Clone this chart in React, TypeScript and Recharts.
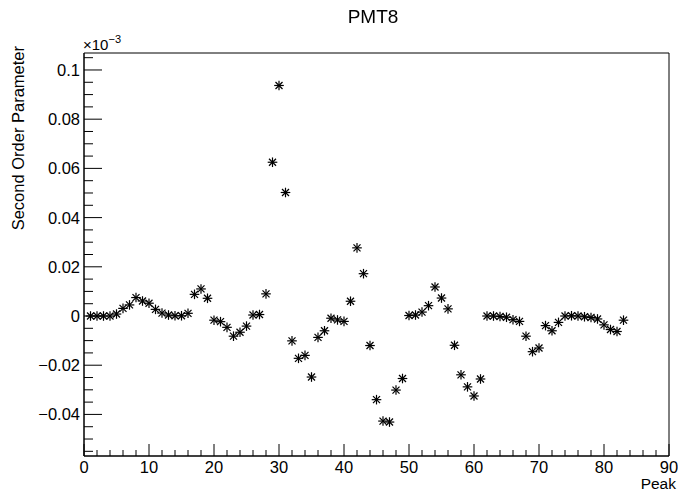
import { ScatterChart, Scatter, XAxis, YAxis, ReferenceArea } from "recharts";

// peak index along the x axis
const peaks = [
  1, 2, 3, 4, 5, 6, 7, 8, 9, 10, 11, 12, 13, 14, 15, 16, 17, 18, 19, 20,
  21, 22, 23, 24, 25, 26, 27, 28, 29, 30, 31, 32, 33, 34, 35, 36, 37, 38, 39, 40,
  41, 42, 43, 44, 45, 46, 47, 48, 49, 50, 51, 52, 53, 54, 55, 56, 57, 58, 59, 60,
  61, 62, 63, 64, 65, 66, 67, 68, 69, 70, 71, 72, 73, 74, 75, 76, 77, 78, 79, 80,
  81, 82, 83,
];

// second order parameter, in units of 1e-3 (as the axis shows)
const secondOrder = [
  0, 0, 0, 0, 0.0008, 0.0031, 0.0045, 0.0075, 0.0061, 0.0052,
  0.0027, 0.0012, 0.0004, 0.0001, 0.0001, 0.0011, 0.0088, 0.011, 0.0072, -0.0017,
  -0.0023, -0.0046, -0.0082, -0.0066, -0.0041, 0.0004, 0.0006, 0.009, 0.0625, 0.0937,
  0.0502, -0.0101, -0.0172, -0.016, -0.0248, -0.0087, -0.006, -0.0009, -0.0016, -0.0022,
  0.006, 0.0277, 0.0172, -0.012, -0.034, -0.0427, -0.0431, -0.0301, -0.0254, 0.0002,
  0.0004, 0.0016, 0.0042, 0.0118, 0.0073, 0.0029, -0.0119, -0.0239, -0.0288, -0.0325,
  -0.0256, 0, 0, -0.0002, -0.0005, -0.0015, -0.0022, -0.0082, -0.0145, -0.013,
  -0.0039, -0.006, -0.0026, 0, 0.0001, 0, -0.0003, -0.0006, -0.0012, -0.0036,
  -0.0055, -0.0063, -0.0017,
];

const xMajorTicks = [0, 10, 20, 30, 40, 50, 60, 70, 80, 90];
const yMajorTicks = [-0.04, -0.02, 0, 0.02, 0.04, 0.06, 0.08, 0.1];

const X_DOMAIN: [number, number] = [0, 90];
const Y_DOMAIN: [number, number] = [-0.0569, 0.1069];

// minor ticks: 5 divisions per major on x, 4 on y
const xTicks: number[] = [];
for (let i = 0; i <= 45; i++) xTicks.push(i * 2);
const yTicks: number[] = [];
for (let i = -11; i <= 21; i++) yTicks.push(Number((i * 0.005).toFixed(3)));

const isMajor = (v: number, list: number[]) => list.some((m) => Math.abs(m - v) < 1e-9);

const FONT = "'Liberation Sans', Arial, Helvetica, sans-serif";
const FS = 16.5;

// plot frame in page pixels
const LEFT = 84;
const RIGHT = 669;
const TOP = 53;
const BOTTOM = 456;
const Y_AXIS_W = 60;
const X_AXIS_H = 30;

const fmtY = (v: number) => {
  if (Math.abs(v) < 1e-12) return "0";
  const s = String(Number(v.toFixed(3)));
  return v < 0 ? "\u2212" + s.replace("-", "") : s;
};

const renderXTick = (props: any) => {
  const { payload, index } = props;
  const x = props.x;
  const y = BOTTOM;
  const major = isMajor(payload.value, xMajorTicks);
  return (
    <g key={`xt-${index}`}>
      <line x1={x} x2={x} y1={y} y2={y - (major ? 12 : 6)} stroke="#000" strokeWidth={1} />
      {major && (
        <text x={x} y={y + 17} textAnchor="middle" fontSize={FS} fontFamily={FONT} fill="#000">
          {payload.value}
        </text>
      )}
    </g>
  );
};

const renderYTick = (props: any) => {
  const { payload, index } = props;
  const x = LEFT;
  const y = props.y;
  const major = isMajor(payload.value, yMajorTicks);
  return (
    <g key={`yt-${index}`}>
      <line x1={x} x2={x + (major ? 18 : 9)} y1={y} y2={y} stroke="#000" strokeWidth={1} />
      {major && (
        <text x={x - 4} y={y + 6} textAnchor="end" fontSize={FS} fontFamily={FONT} fill="#000">
          {fmtY(payload.value)}
        </text>
      )}
    </g>
  );
};

// ROOT marker style 3 (asterisk)
const Asterisk = (props: any) => {
  const { cx, cy } = props;
  if (cx == null || cy == null) return null;
  const r = 4.8;
  const d = 3.5;
  return (
    <g stroke="#000" strokeWidth={1.2}>
      <line x1={cx - r} x2={cx + r} y1={cy} y2={cy} />
      <line x1={cx} x2={cx} y1={cy - r} y2={cy + r} />
      <line x1={cx - d} x2={cx + d} y1={cy - d} y2={cy + d} />
      <line x1={cx - d} x2={cx + d} y1={cy + d} y2={cy - d} />
    </g>
  );
};

export default function App() {
  const data = peaks.map((p, i) => ({ peak: p, value: secondOrder[i] }));

  return (
    <div style={{ position: "fixed", left: 0, top: 0, width: 678, height: 493, background: "#fff", fontFamily: FONT }}>
      <ScatterChart
        width={678}
        height={493}
        margin={{ top: TOP, right: 678 - RIGHT, bottom: 493 - BOTTOM - X_AXIS_H, left: LEFT - Y_AXIS_W }}
      >
        <XAxis
          type="number"
          dataKey="peak"
          domain={X_DOMAIN}
          ticks={xTicks}
          interval={0}
          allowDataOverflow
          height={X_AXIS_H}
          tickLine={false}
          axisLine={{ stroke: "#000" }}
          tick={renderXTick}
        />
        <YAxis
          type="number"
          dataKey="value"
          domain={Y_DOMAIN}
          ticks={yTicks}
          interval={0}
          allowDataOverflow
          width={Y_AXIS_W}
          tickLine={false}
          axisLine={{ stroke: "#000" }}
          tick={renderYTick}
        />
        <ReferenceArea
          x1={X_DOMAIN[0]}
          x2={X_DOMAIN[1]}
          y1={Y_DOMAIN[0]}
          y2={Y_DOMAIN[1]}
          fill="none"
          stroke="#000"
          strokeWidth={1}
          ifOverflow="visible"
        />
        <Scatter data={data} isAnimationActive={false} shape={Asterisk} />
      </ScatterChart>

      <div style={{ position: "absolute", left: 0, width: 746, top: 5, textAlign: "center", fontSize: 19, color: "#000", lineHeight: "24px" }}>
        PMT8
      </div>
      <div style={{ position: "absolute", left: 83, top: 36, fontSize: 15, color: "#000", lineHeight: "18px" }}>
        ×10<sup style={{ fontSize: 11, verticalAlign: "7px", lineHeight: 0 }}>−3</sup>
      </div>
      <div
        style={{
          position: "absolute",
          left: 8,
          top: 46,
          transformOrigin: "0 0",
          transform: "rotate(-90deg) translate(-100%, 0)",
          fontSize: FS,
          whiteSpace: "nowrap",
          color: "#000",
          lineHeight: "20px",
        }}
      >
        Second Order Parameter
      </div>
      <div style={{ position: "absolute", right: 2, top: 476, fontSize: 15.5, color: "#000", lineHeight: "16px" }}>Peak</div>
    </div>
  );
}
